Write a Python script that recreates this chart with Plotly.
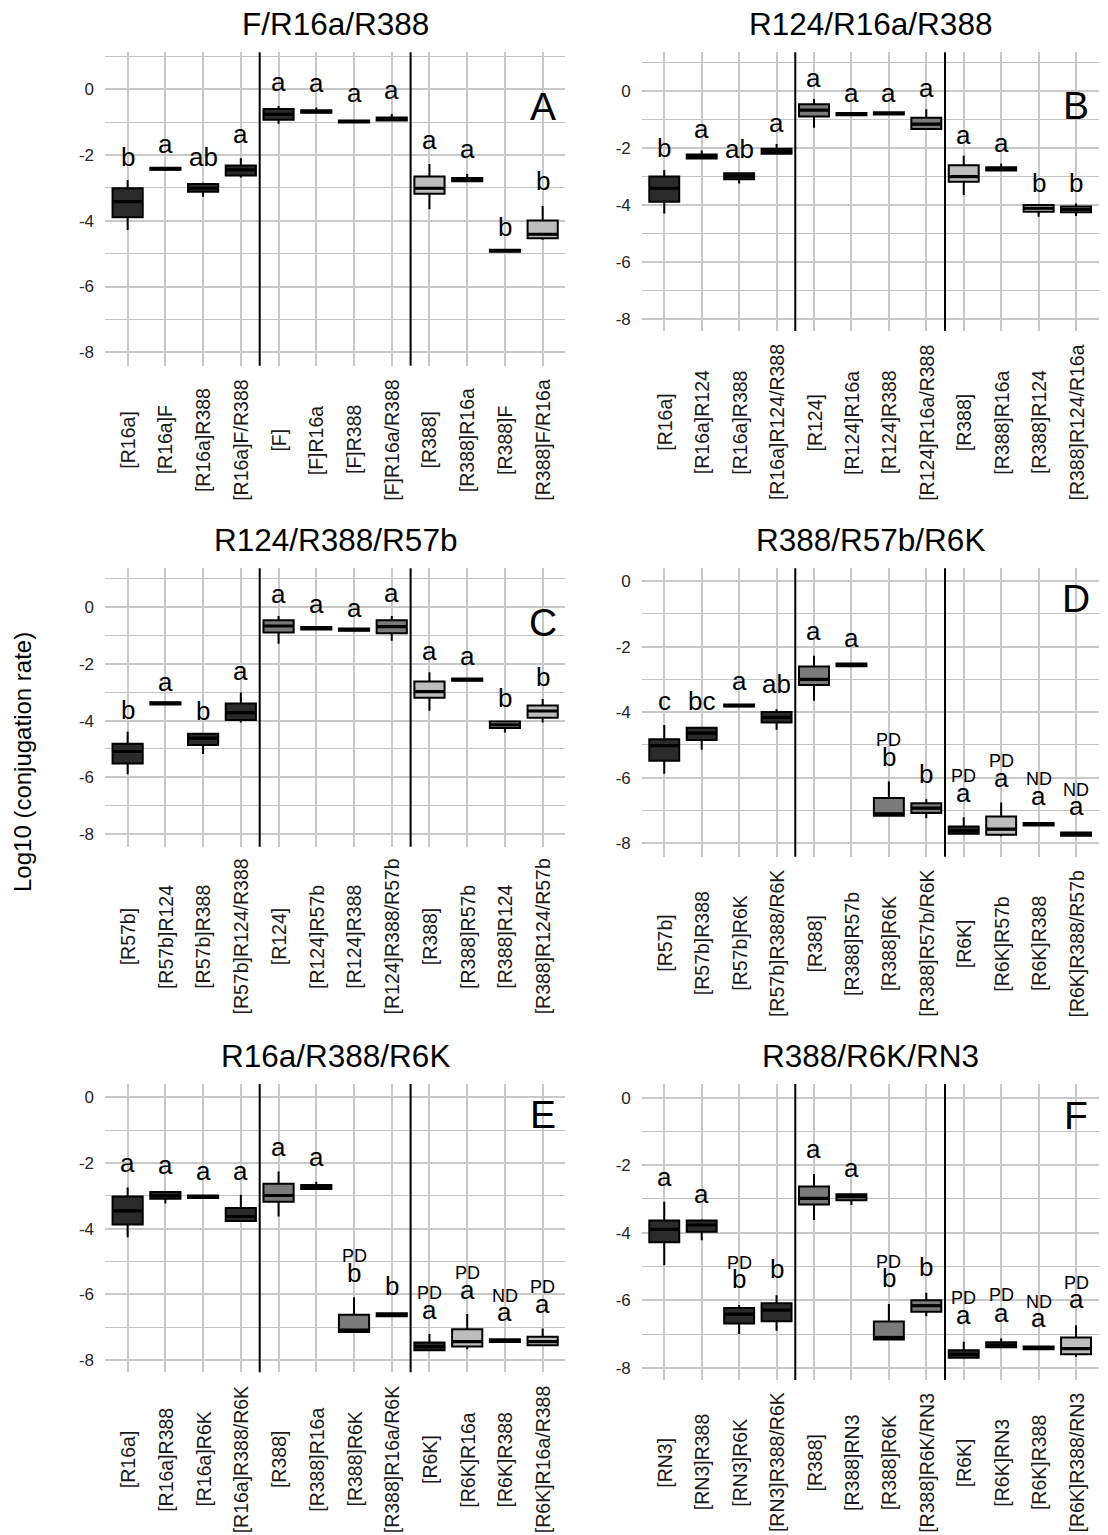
import plotly.graph_objects as go

W, H = 1108, 1535

# ---------------- data ----------------
A_title = "F/R16a/R388"
A_labels = ["[R16a]", "[R16a]F", "[R16a]R388", "[R16a]F/R388", "[F]", "[F]R16a", "[F]R388", "[F]R16a/R388",
            "[R388]", "[R388]R16a", "[R388]F", "[R388]F/R16a"]
A_lo = [-4.28, -2.45, -3.27, -2.68, -1.05, -0.71, -1.01, -0.95, -3.65, -2.80, -4.94, -4.58]
A_q1 = [-3.89, -2.45, -3.12, -2.62, -0.93, -0.71, -1.01, -0.95, -3.18, -2.80, -4.94, -4.53]
A_med = [-3.42, -2.42, -3.01, -2.45, -0.76, -0.68, -0.98, -0.90, -3.01, -2.75, -4.91, -4.41]
A_q3 = [-3.01, -2.39, -2.88, -2.32, -0.60, -0.64, -0.95, -0.86, -2.65, -2.70, -4.88, -3.99]
A_hi = [-2.76, -2.39, -2.84, -2.10, -0.51, -0.55, -0.95, -0.75, -2.27, -2.58, -4.88, -3.55]
A_fill = ["d", "d", "d", "d", "d", "d", "d", "d", "l", "l", "l", "l"]
A_sig = ["b", "a", "ab", "a", "a", "a", "a", "a", "a", "a", "b", "b"]
A_sig_y = [-2.35, -1.98, -2.35, -1.66, -0.07, -0.12, -0.43, -0.32, -1.85, -2.13, -4.48, -3.09]
A_top = [""] * 12
A_top_y = [0] * 12

B_title = "R124/R16a/R388"
B_labels = ["[R16a]", "[R16a]R124", "[R16a]R388", "[R16a]R124/R388", "[R124]", "[R124]R16a", "[R124]R388",
            "[R124]R16a/R388", "[R388]", "[R388]R16a", "[R388]R124", "[R388]R124/R16a"]
B_lo = [-4.30, -2.38, -3.25, -2.22, -1.30, -0.86, -0.84, -1.36, -3.66, -2.80, -4.42, -4.39]
B_q1 = [-3.89, -2.38, -3.10, -2.21, -0.91, -0.86, -0.84, -1.34, -3.19, -2.80, -4.24, -4.26]
B_med = [-3.42, -2.31, -2.99, -2.14, -0.68, -0.82, -0.80, -1.17, -3.01, -2.74, -4.12, -4.16]
B_q3 = [-3.01, -2.24, -2.89, -2.04, -0.48, -0.78, -0.76, -0.95, -2.61, -2.68, -4.01, -4.06]
B_hi = [-2.78, -2.10, -2.86, -1.87, -0.29, -0.78, -0.76, -0.65, -2.28, -2.55, -4.01, -3.95]
B_fill = ["d", "d", "d", "d", "m", "m", "m", "m", "l", "l", "l", "l"]
B_sig = ["b", "a", "ab", "a", "a", "a", "a", "a", "a", "a", "b", "b"]
B_sig_y = [-2.37, -1.71, -2.41, -1.50, 0.10, -0.44, -0.42, -0.27, -1.90, -2.20, -3.57, -3.57]
B_top = [""] * 12
B_top_y = [0] * 12

C_title = "R124/R388/R57b"
C_labels = ["[R57b]", "[R57b]R124", "[R57b]R388", "[R57b]R124/R388", "[R124]", "[R124]R57b", "[R124]R388",
            "[R124]R388/R57b", "[R388]", "[R388]R57b", "[R388]R124", "[R388]R124/R57b"]
C_lo = [-5.89, -3.43, -5.18, -4.07, -1.29, -0.78, -0.83, -1.18, -3.65, -2.59, -4.42, -4.07]
C_q1 = [-5.51, -3.43, -4.86, -3.98, -0.89, -0.78, -0.83, -0.92, -3.19, -2.59, -4.26, -3.90]
C_med = [-5.09, -3.39, -4.62, -3.72, -0.66, -0.74, -0.79, -0.68, -2.98, -2.55, -4.15, -3.66]
C_q3 = [-4.82, -3.35, -4.46, -3.40, -0.46, -0.70, -0.75, -0.46, -2.62, -2.51, -4.03, -3.47]
C_hi = [-4.39, -3.35, -4.46, -3.01, -0.31, -0.70, -0.75, -0.31, -2.29, -2.51, -4.03, -3.24]
C_fill = ["d", "d", "d", "d", "m", "m", "m", "m", "l", "l", "l", "l"]
C_sig = ["b", "a", "b", "a", "a", "a", "a", "a", "a", "a", "b", "b"]
C_sig_y = [-3.98, -2.98, -4.00, -2.59, 0.12, -0.24, -0.39, 0.14, -1.88, -2.09, -3.56, -2.80]
C_top = [""] * 12
C_top_y = [0] * 12

D_title = "R388/R57b/R6K"
D_labels = ["[R57b]", "[R57b]R388", "[R57b]R6K", "[R57b]R388/R6K", "[R388]", "[R388]R57b", "[R388]R6K",
            "[R388]R57b/R6K", "[R6K]", "[R6K]R57b", "[R6K]R388", "[R6K]R388/R57b"]
D_lo = [-5.88, -5.15, -3.83, -4.54, -3.65, -2.60, -7.18, -7.24, -7.74, -7.79, -7.46, -7.77]
D_q1 = [-5.48, -4.85, -3.83, -4.32, -3.17, -2.60, -7.16, -7.08, -7.71, -7.74, -7.46, -7.77]
D_med = [-5.02, -4.64, -3.80, -4.16, -3.00, -2.56, -7.10, -6.93, -7.62, -7.57, -7.42, -7.72]
D_q3 = [-4.83, -4.48, -3.77, -4.00, -2.61, -2.52, -6.62, -6.78, -7.49, -7.18, -7.38, -7.67]
D_hi = [-4.39, -4.45, -3.77, -3.91, -2.28, -2.52, -6.12, -6.66, -7.21, -6.76, -7.38, -7.67]
D_fill = ["d", "d", "d", "d", "m", "m", "m", "m", "d", "l", "l", "l"]
D_sig = ["c", "bc", "a", "ab", "a", "a", "b", "b", "a", "a", "a", "a"]
D_sig_y = [-3.96, -3.96, -3.37, -3.46, -1.83, -2.03, -5.68, -6.19, -6.78, -6.32, -6.86, -7.16]
D_top = ["", "", "", "", "", "", "PD", "", "PD", "PD", "ND", "ND"]
D_top_y = [0, 0, 0, 0, 0, 0, -5.13, 0, -6.22, -5.76, -6.32, -6.66]

E_title = "R16a/R388/R6K"
E_labels = ["[R16a]", "[R16a]R388", "[R16a]R6K", "[R16a]R388/R6K", "[R388]", "[R388]R16a", "[R388]R6K",
            "[R388]R16a/R6K", "[R6K]", "[R6K]R16a", "[R6K]R388", "[R6K]R16a/R388"]
E_lo = [-4.26, -3.23, -3.07, -3.79, -3.63, -2.79, -7.17, -6.67, -7.72, -7.67, -7.45, -7.57]
E_q1 = [-3.87, -3.09, -3.07, -3.77, -3.18, -2.79, -7.15, -6.67, -7.70, -7.59, -7.45, -7.55]
E_med = [-3.46, -3.00, -3.03, -3.63, -2.99, -2.74, -7.09, -6.63, -7.59, -7.44, -7.41, -7.44]
E_q3 = [-3.02, -2.88, -2.99, -3.37, -2.63, -2.67, -6.62, -6.58, -7.47, -7.06, -7.37, -7.29]
E_hi = [-2.75, -2.85, -2.99, -2.97, -2.26, -2.57, -6.09, -6.58, -7.21, -6.60, -7.37, -7.04]
E_fill = ["d", "d", "d", "d", "m", "m", "m", "m", "d", "l", "l", "l"]
E_sig = ["a", "a", "a", "a", "a", "a", "b", "b", "a", "a", "a", "a"]
E_sig_y = [-2.31, -2.37, -2.54, -2.54, -1.81, -2.11, -5.66, -6.05, -6.78, -6.17, -6.83, -6.60]
E_top = ["", "", "", "", "", "", "PD", "", "PD", "PD", "ND", "PD"]
E_top_y = [0, 0, 0, 0, 0, 0, -5.11, 0, -6.22, -5.61, -6.32, -6.05]

F_title = "R388/R6K/RN3"
F_labels = ["[RN3]", "[RN3]R388", "[RN3]R6K", "[RN3]R388/R6K", "[R388]", "[R388]RN3", "[R388]R6K",
            "[R388]R6K/RN3", "[R6K]", "[R6K]RN3", "[R6K]R388", "[R6K]R388/RN3"]
F_lo = [-4.96, -4.22, -7.00, -6.90, -3.62, -3.18, -7.18, -6.47, -7.72, -7.39, -7.45, -7.67]
F_q1 = [-4.28, -3.97, -6.69, -6.62, -3.16, -3.04, -7.16, -6.34, -7.70, -7.39, -7.45, -7.60]
F_med = [-3.90, -3.77, -6.41, -6.29, -2.98, -2.93, -7.10, -6.16, -7.60, -7.33, -7.41, -7.43]
F_q3 = [-3.64, -3.64, -6.23, -6.09, -2.63, -2.86, -6.63, -6.00, -7.48, -7.24, -7.37, -7.10]
F_hi = [-3.08, -3.60, -6.14, -5.85, -2.26, -2.86, -6.11, -5.78, -7.23, -7.13, -7.37, -6.74]
F_fill = ["d", "d", "d", "d", "m", "m", "m", "m", "d", "d", "l", "l"]
F_sig = ["a", "a", "b", "b", "a", "a", "b", "b", "a", "a", "a", "a"]
F_sig_y = [-2.64, -3.16, -5.68, -5.38, -1.83, -2.39, -5.65, -5.30, -6.74, -6.67, -6.83, -6.27]
F_top = ["", "", "PD", "", "", "", "PD", "", "PD", "PD", "ND", "PD"]
F_top_y = [0, 0, -5.16, 0, 0, 0, -5.13, 0, -6.21, -6.11, -6.32, -5.75]

panel_letters = ["A", "B", "C", "D", "E", "F"]
y_title = "Log10 (conjugation rate)"
y_ticks = [-8, -6, -4, -2, 0]

# ---------------- styling / layout geometry ----------------
FILL = {"d": "#2b2b2b", "m": "#7a7a7a", "l": "#bdbdbd"}
FONT = "Liberation Sans, Arial, Helvetica, sans-serif"
BOX_W = 0.8

panels = [
    (A_title, A_labels, A_lo, A_q1, A_med, A_q3, A_hi, A_fill, A_sig, A_sig_y, A_top, A_top_y),
    (B_title, B_labels, B_lo, B_q1, B_med, B_q3, B_hi, B_fill, B_sig, B_sig_y, B_top, B_top_y),
    (C_title, C_labels, C_lo, C_q1, C_med, C_q3, C_hi, C_fill, C_sig, C_sig_y, C_top, C_top_y),
    (D_title, D_labels, D_lo, D_q1, D_med, D_q3, D_hi, D_fill, D_sig, D_sig_y, D_top, D_top_y),
    (E_title, E_labels, E_lo, E_q1, E_med, E_q3, E_hi, E_fill, E_sig, E_sig_y, E_top, E_top_y),
    (F_title, F_labels, F_lo, F_q1, F_med, F_q3, F_hi, F_fill, F_sig, F_sig_y, F_top, F_top_y),
]

# pixel rectangles of the plot panels: (left, right, top, bottom), y range, title baseline, label centre
rects = [
    (105.0, 565.3, 52.3, 365.7, (-8.41, 1.126), 36, 440),
    (641.8, 1098.5, 52.3, 331.0, (-8.42, 1.343), 36, 422.5),
    (105.0, 565.3, 568.3, 846.7, (-8.45, 1.376), 552, 936.7),
    (641.8, 1098.5, 568.3, 856.7, (-8.41, 0.387), 552, 943.5),
    (105.0, 565.3, 1084.0, 1372.3, (-8.375, 0.406), 1068, 1459.5),
    (641.8, 1098.5, 1084.0, 1380.0, (-8.36, 0.405), 1068, 1462.5),
]

fig = go.Figure()
annotations = []
shapes = []

for i, (p, r) in enumerate(zip(panels, rects)):
    title, labels, lo, q1, med, q3, hi, fill, sig, sig_y, top, top_y = p
    left, right, top_px, bot_px, yr, title_base, lab_c = r
    n = i + 1
    xa = "x" if n == 1 else f"x{n}"
    ya = "y" if n == 1 else f"y{n}"
    xpos = list(range(1, len(labels) + 1))
    for j in range(len(labels)):
        fig.add_trace(go.Box(
            x=[xpos[j]], q1=[q1[j]], median=[med[j]], q3=[q3[j]],
            lowerfence=[lo[j]], upperfence=[hi[j]],
            width=BOX_W, whiskerwidth=0, fillcolor=FILL[fill[j]],
            line=dict(color="black", width=2), boxpoints=False,
            xaxis=xa, yaxis=ya, showlegend=False, hoverinfo="skip",
        ))
        # thicker median bar (as in ggplot)
        fig.add_trace(go.Scatter(
            x=[xpos[j] - BOX_W / 2 + 0.02, xpos[j] + BOX_W / 2 - 0.02], y=[med[j], med[j]],
            mode="lines", line=dict(color="black", width=3.2),
            xaxis=xa, yaxis=ya, showlegend=False, hoverinfo="skip",
        ))
        # significance letters
        annotations.append(dict(x=xpos[j], y=sig_y[j], xref=xa, yref=ya, text=sig[j],
                                showarrow=False, yanchor="bottom", yshift=-6, borderpad=0,
                                font=dict(family=FONT, size=26, color="black")))
        if top[j]:
            annotations.append(dict(x=xpos[j], y=top_y[j], xref=xa, yref=ya, text=top[j],
                                    showarrow=False, yanchor="bottom", yshift=-2, borderpad=0,
                                    font=dict(family=FONT, size=18, color="black")))
        # category labels (centred, rotated)
        annotations.append(dict(x=xpos[j], y=1 - lab_c / H, xref=xa, yref="paper", text=labels[j],
                                showarrow=False, textangle=-90, xanchor="center", yanchor="middle",
                                font=dict(family=FONT, size=19.5, color="#1a1a1a")))
    # group separators
    for xs in (4.5, 8.5):
        shapes.append(dict(type="line", xref=xa, yref=f"{ya} domain", x0=xs, x1=xs, y0=0, y1=1,
                           line=dict(color="black", width=2)))
    # title
    annotations.append(dict(x=(left + right) / 2 / W, y=1 - title_base / H, xref="paper", yref="paper",
                            text=title, showarrow=False, xanchor="center", yanchor="bottom", yshift=-8,
                            font=dict(family=FONT, size=31.5, color="black")))
    # panel letter
    annotations.append(dict(x=12, y=-0.52, xref=xa, yref=ya, text=panel_letters[i], showarrow=False,
                            xanchor="center", yanchor="middle",
                            font=dict(family=FONT, size=39, color="black")))
    fig.update_layout({
        ("xaxis" if n == 1 else f"xaxis{n}"): dict(
            domain=[left / W, right / W], range=[0.4, 12.6], tickvals=xpos, showticklabels=False,
            showgrid=True, gridcolor="#c8c8c8", gridwidth=1.8, zeroline=False, showline=False,
            ticks="", anchor=ya, fixedrange=True),
        ("yaxis" if n == 1 else f"yaxis{n}"): dict(
            domain=[1 - bot_px / H, 1 - top_px / H], range=list(yr), tickvals=y_ticks,
            ticktext=[str(v) for v in y_ticks],
            showgrid=True, gridcolor="#c8c8c8", gridwidth=1.8, zeroline=False, showline=False,
            minor=dict(tickvals=[-7, -5, -3, -1, 1], showgrid=True, gridcolor="#c4c4c4", gridwidth=1.1),
            ticks="", ticklabelstandoff=10, anchor=xa,
            tickfont=dict(family=FONT, size=17, color="#262626"), fixedrange=True),
    })

annotations.append(dict(x=22 / W, y=1 - 762 / H, xref="paper", yref="paper", text=y_title,
                        showarrow=False, textangle=-90, xanchor="center", yanchor="middle",
                        font=dict(family=FONT, size=24, color="black")))

fig.update_layout(
    width=W, height=H, margin=dict(l=0, r=0, t=0, b=0),
    paper_bgcolor="white", plot_bgcolor="white", showlegend=False,
    boxmode="overlay", annotations=annotations, shapes=shapes,
)

fig.write_html("out.html")
